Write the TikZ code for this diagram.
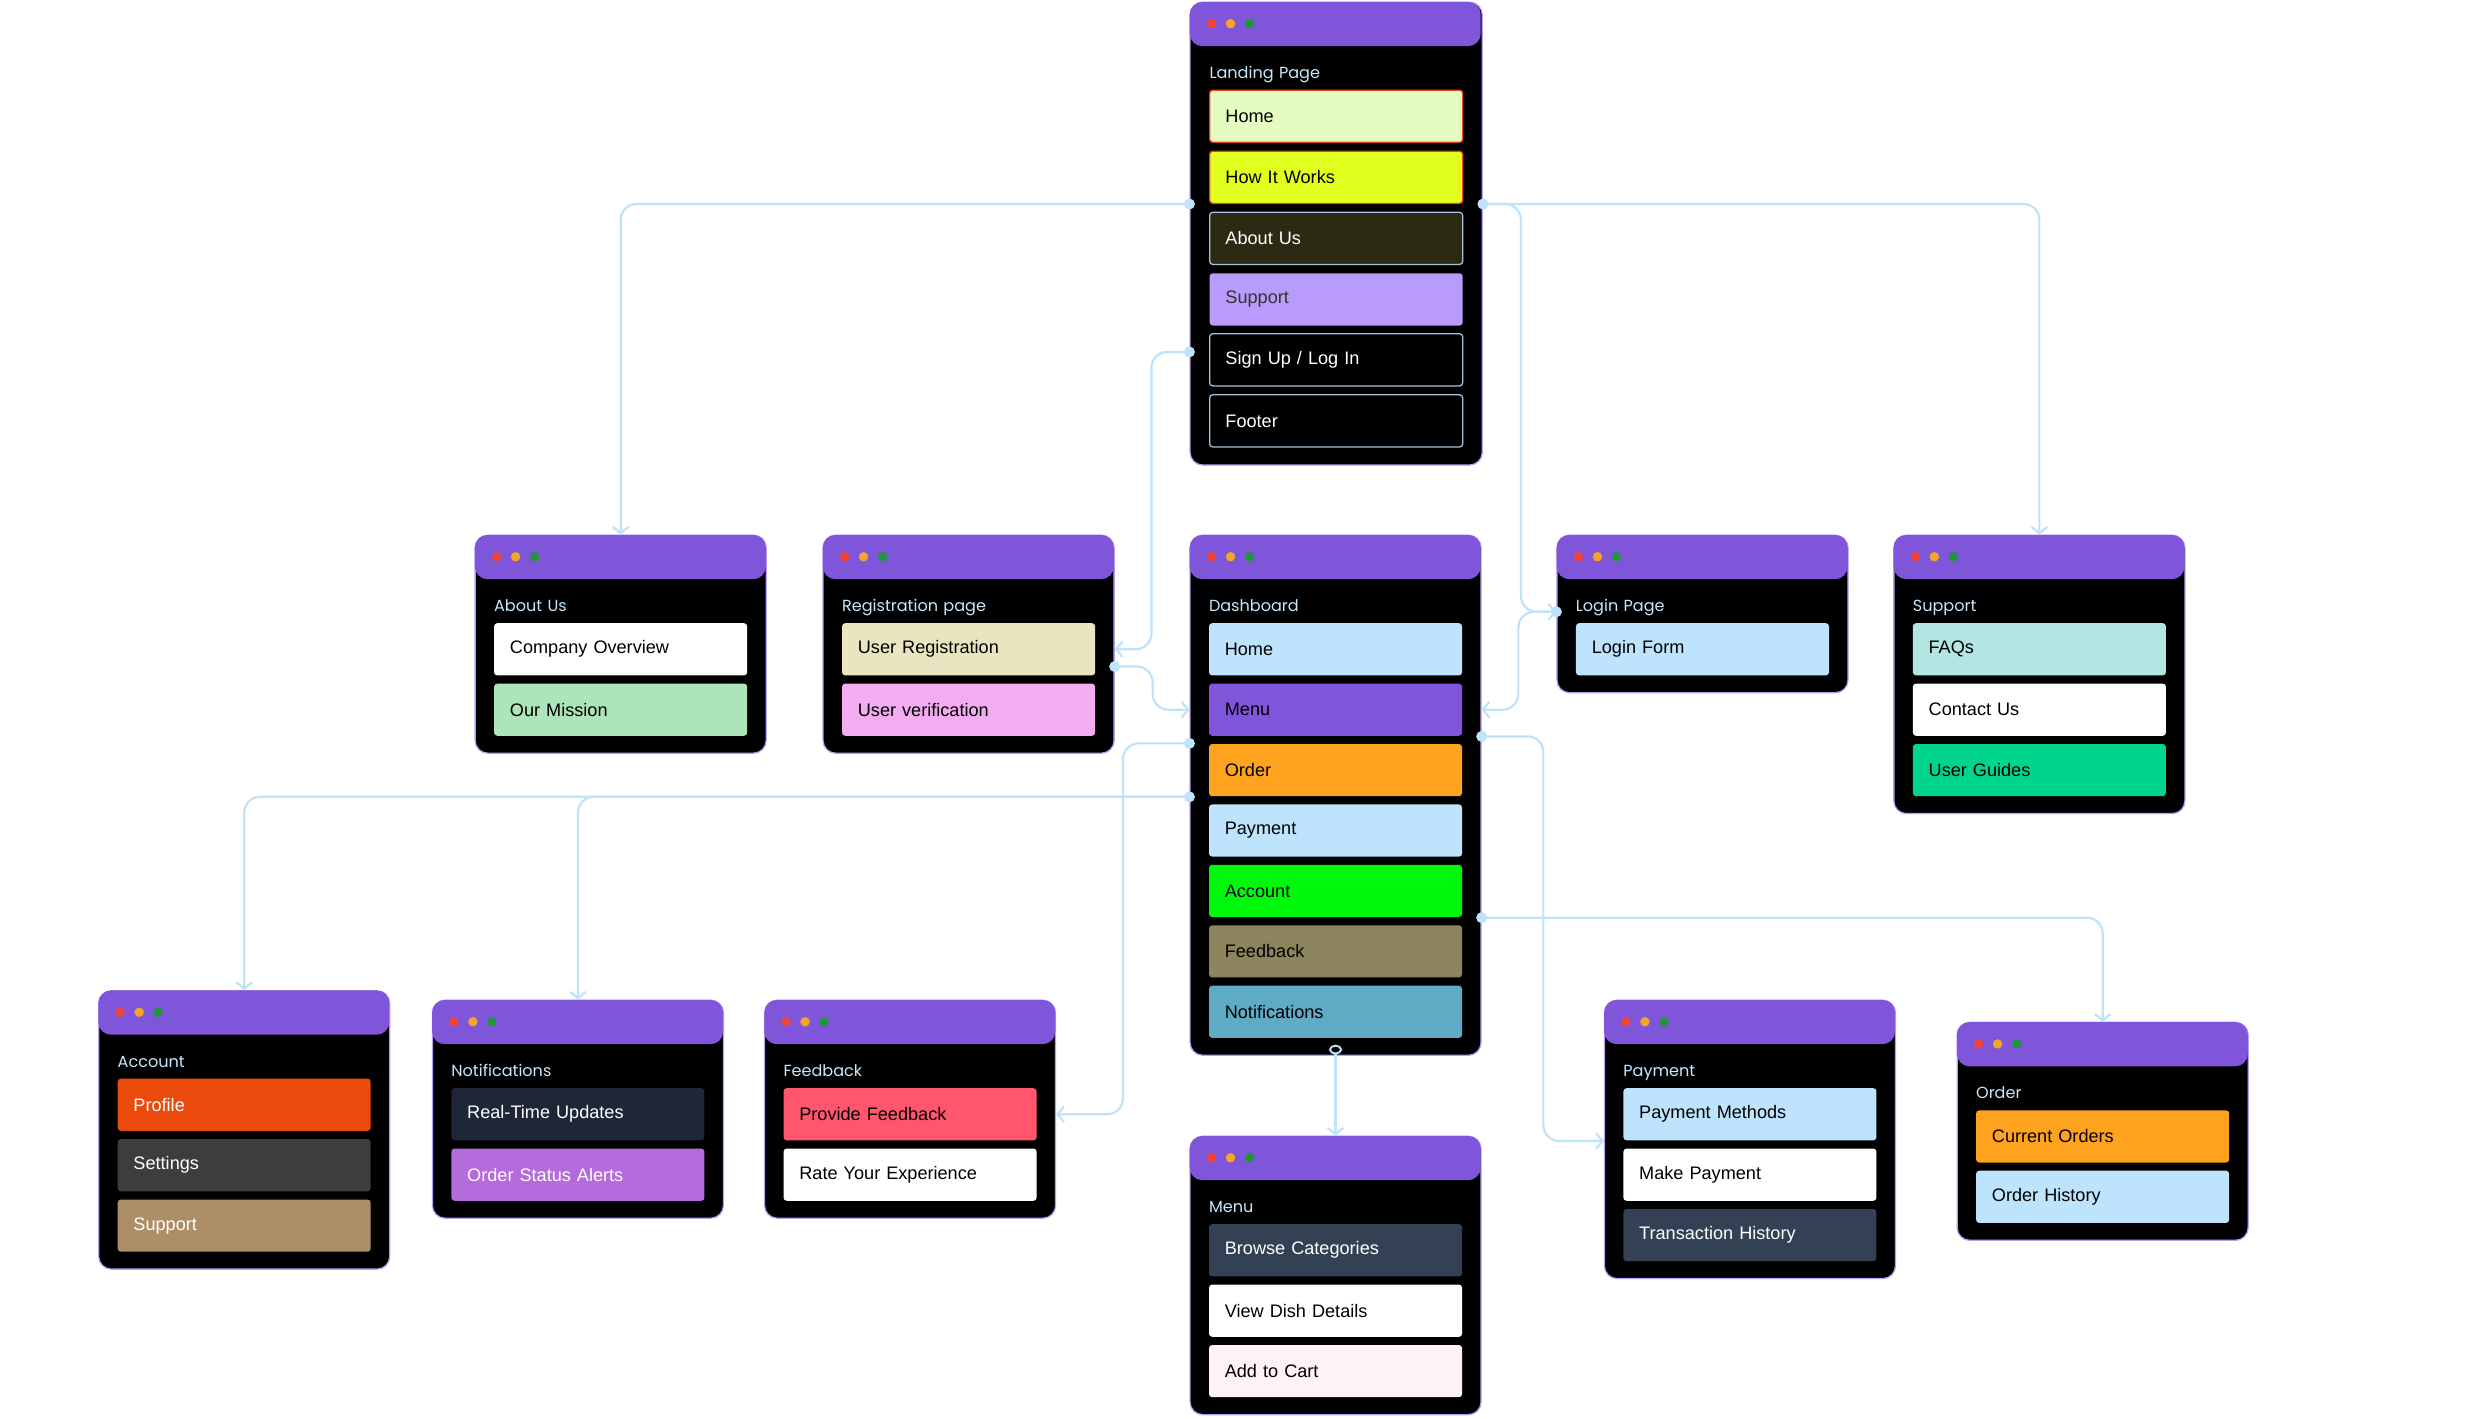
\documentclass[tikz,border=0pt]{standalone}
\usepackage{fontspec}
\setmainfont{Liberation Sans}
\newfontfamily\ttlfont{Poppins}
\usetikzlibrary{matrix,
	positioning,
	shapes.geometric,
	arrows.meta}
\definecolor{headcol}{HTML}{7F56D9}
\definecolor{winedge}{HTML}{B89DF5}
\definecolor{linkcol}{HTML}{BFE3FB}
\definecolor{ttlcol}{HTML}{C7E6FB}
\definecolor{dotr}{HTML}{F04438}
\definecolor{doty}{HTML}{F5A524}
\definecolor{dotg}{HTML}{22943E}
\definecolor{redline}{HTML}{E8451E}
\definecolor{grayline}{HTML}{A5C3D9}
\definecolor{homec}{HTML}{E4FCBF}
\definecolor{hiwc}{HTML}{E1FF1D}
\definecolor{aboutc}{HTML}{2D2A14}
\definecolor{lilac}{HTML}{B89BFB}
\definecolor{sky}{HTML}{BDE3FD}
\definecolor{mission}{HTML}{AEE4B9}
\definecolor{regc}{HTML}{E8E5C0}
\definecolor{verif}{HTML}{F2ACEF}
\definecolor{orangec}{HTML}{FFA31E}
\definecolor{greenc}{HTML}{00F90B}
\definecolor{feedc}{HTML}{8B845C}
\definecolor{notic}{HTML}{5FAAC4}
\definecolor{faqc}{HTML}{B1E6E2}
\definecolor{guidec}{HTML}{00D48F}
\definecolor{profilec}{HTML}{EB4A0D}
\definecolor{settingc}{HTML}{3D3D3D}
\definecolor{tanc}{HTML}{AC8F68}
\definecolor{navyc}{HTML}{1E2637}
\definecolor{osac}{HTML}{B66BDC}
\definecolor{provc}{HTML}{FF566D}
\definecolor{slatec}{HTML}{344154}
\definecolor{pinkc}{HTML}{FEF1F7}
\tikzstyle{win}=[matrix, draw=winedge, line width=0.8bp, fill=black, rounded corners=8bp,
		inner xsep=12bp, inner ysep=11bp, row sep=4.8bp, anchor=north west,
		ampersand replacement=\&]
\tikzstyle{head}=[rectangle, fill=headcol, rounded corners=8bp, minimum width=184bp,
		minimum height=28bp, inner sep=0, anchor=north west]
\tikzstyle{ttl}=[rectangle, inner sep=0, text width=160bp, text height=37bp, text depth=2bp,
		align=left, text=ttlcol, font=\ttlfont\fontsize{10.2}{12}\selectfont]
\tikzstyle{it}=[rectangle, minimum width=160bp, minimum height=33bp, text width=140bp,
		inner xsep=10bp, inner ysep=0, rounded corners=2bp, align=left, line width=0.8bp,
		text=black, font=\fontsize{11.5}{13}\selectfont]
\tikzstyle{itw}=[it, text=white]
\tikzstyle{link}=[draw=linkcol, line width=1.4bp, rounded corners=10bp,
		-{Straight Barb[length=4bp,width=10bp]}]
\tikzstyle{ldot}=[circle, fill=linkcol, inner sep=0, minimum size=7bp]
\tikzstyle{lring}=[ellipse, draw=linkcol, fill=black, line width=1.2bp, inner sep=0,
		minimum width=7bp, minimum height=5bp]
\newcommand\winhead[1]{%
	\node[head] (#1h) at (#1.north west) {};
	\fill[dotr] ([xshift=14bp,yshift=-14bp]#1.north west) circle (3bp);
	\fill[doty] ([xshift=26bp,yshift=-14bp]#1.north west) circle (3bp);
	\fill[dotg] ([xshift=38bp,yshift=-14bp]#1.north west) circle (3bp);}

\begin{document}
\begin{tikzpicture}[x=1bp, y=-1bp]
	\fill[white] (0,0) rectangle (1568,897);
	\useasboundingbox (0,0) rectangle (1568,897);

	\matrix (land) [win] at (752,1) {
		\node[ttl] (landt) {Landing Page}; \\
		\node[it, fill=homec, draw=redline] (land1) {Home}; \\
		\node[it, fill=hiwc, draw=redline] (land2) {How It Works}; \\
		\node[itw, fill=aboutc, draw=grayline] (land3) {About Us}; \\
		\node[it, fill=lilac, text=black!80] (land4) {Support}; \\
		\node[itw, fill=black, draw=grayline] (land5) {Sign Up / Log In}; \\
		\node[itw, fill=black, draw=grayline] (land6) {Footer}; \\
	};
	\winhead{land}

	\matrix (about) [win] at (300,338) {
		\node[ttl] (aboutt) {About Us}; \\
		\node[it, fill=white] (about1) {Company Overview}; \\
		\node[it, fill=mission] (about2) {Our Mission}; \\
	};
	\winhead{about}

	\matrix (reg) [win] at (520,338) {
		\node[ttl] (regt) {Registration page}; \\
		\node[it, fill=regc] (reg1) {User Registration}; \\
		\node[it, fill=verif] (reg2) {User verification}; \\
	};
	\winhead{reg}

	\matrix (dash) [win] at (752,338) {
		\node[ttl] (dasht) {Dashboard}; \\
		\node[it, fill=sky] (dash1) {Home}; \\
		\node[it, fill=headcol] (dash2) {Menu}; \\
		\node[it, fill=orangec] (dash3) {Order}; \\
		\node[it, fill=sky] (dash4) {Payment}; \\
		\node[it, fill=greenc] (dash5) {Account}; \\
		\node[it, fill=feedc] (dash6) {Feedback}; \\
		\node[it, fill=notic] (dash7) {Notifications}; \\
	};
	\winhead{dash}

	\matrix (login) [win] at (984,338) {
		\node[ttl] (logint) {Login Page}; \\
		\node[it, fill=sky] (login1) {Login Form}; \\
	};
	\winhead{login}

	\matrix (supp) [win] at (1197,338) {
		\node[ttl] (suppt) {Support}; \\
		\node[it, fill=faqc] (supp1) {FAQs}; \\
		\node[it, fill=white] (supp2) {Contact Us}; \\
		\node[it, fill=guidec] (supp3) {User Guides}; \\
	};
	\winhead{supp}

	\matrix (acct) [win] at (62,626) {
		\node[ttl] (acctt) {Account}; \\
		\node[itw, fill=profilec] (acct1) {Profile}; \\
		\node[itw, fill=settingc] (acct2) {Settings}; \\
		\node[itw, fill=tanc] (acct3) {Support}; \\
	};
	\winhead{acct}

	\matrix (noti) [win] at (273,632) {
		\node[ttl] (notit) {Notifications}; \\
		\node[itw, fill=navyc] (noti1) {Real-Time Updates}; \\
		\node[itw, fill=osac] (noti2) {Order Status Alerts}; \\
	};
	\winhead{noti}

	\matrix (feed) [win] at (483,632) {
		\node[ttl] (feedt) {Feedback}; \\
		\node[it, fill=provc] (feed1) {Provide Feedback}; \\
		\node[it, fill=white] (feed2) {Rate Your Experience}; \\
	};
	\winhead{feed}

	\matrix (menu) [win] at (752,718) {
		\node[ttl] (menut) {Menu}; \\
		\node[itw, fill=slatec] (menu1) {Browse Categories}; \\
		\node[it, fill=white] (menu2) {View Dish Details}; \\
		\node[it, fill=pinkc] (menu3) {Add to Cart}; \\
	};
	\winhead{menu}

	\matrix (pay) [win] at (1014,632) {
		\node[ttl] (payt) {Payment}; \\
		\node[it, fill=sky] (pay1) {Payment Methods}; \\
		\node[it, fill=white] (pay2) {Make Payment}; \\
		\node[itw, fill=slatec] (pay3) {Transaction History}; \\
	};
	\winhead{pay}

	\matrix (ord) [win] at (1237,646) {
		\node[ttl] (ordt) {Order}; \\
		\node[it, fill=orangec] (ord1) {Current Orders}; \\
		\node[it, fill=sky] (ord2) {Order History}; \\
	};
	\winhead{ord}

	\draw[link] (land.west |- land2.south) node[ldot] {} -| (about.north);
	\draw[link] (land.east |- land2.south) node[ldot] {} -| (supp.north);
	\draw[link] (land.east |- land2.south) -- ++(24,0) |- (login.west |- logint.base);
	\draw[link] (login.west |- logint.base) node[ldot] {} -- ++(-24,0) |- (dash.east |- dash2);
	\draw[link] (land.west |- land5) ++(0,-5) node[ldot] {} -- ++(-24,0) |- (reg.east |- reg1);
	\draw[link] (reg.east |- reg1.south) ++(0,-6) node[ldot] {} -- ++(24,0) |- (dash.west |- dash2);
	\draw[link] (dash.west |- dash3.north) node[ldot] {} -- ++(-42,0) |- (feed.east |- feed1);
	\draw[link] (dash.west |- dash3.south) node[ldot] {} -| (acct.north);
	\draw[link] (dash.west |- dash3.south) -| (noti.north);
	\draw[link] (dash.east |- dash2.south) node[ldot] {} -- ++(39,0) |- (pay.west |- pay1.south);
	\draw[link] (dash.east |- dash5.south) node[ldot] {} -| (ord.north);
	\draw[link] (dash.south) ++(0,-4) node[lring] {} -- (menu.north);
\end{tikzpicture}
\end{document}
